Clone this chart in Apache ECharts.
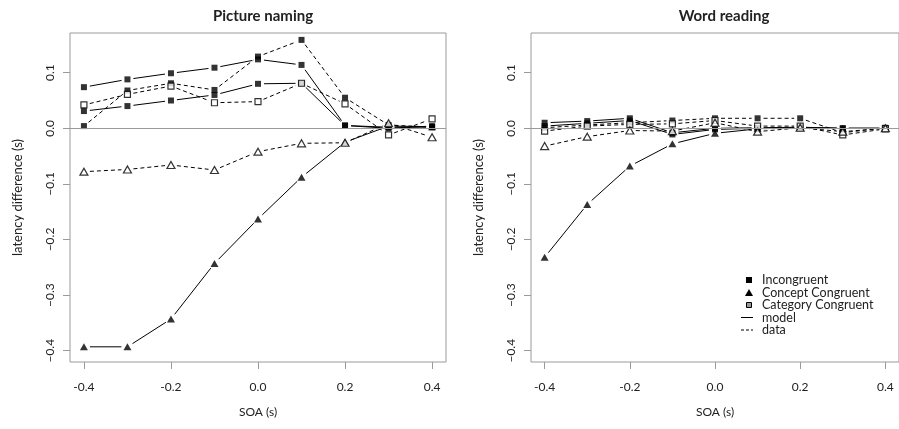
<!DOCTYPE html>
<html>
<head>
<meta charset="utf-8">
<script src="https://cdn.jsdelivr.net/npm/echarts@6/dist/echarts.min.js"></script>
<style>html,body{margin:0;padding:0;background:#fff}#c{width:899px;height:429px}</style>
</head>
<body>
<div id="c"></div>
<script>
// ---- data ----
const soa = [-0.4, -0.3, -0.2, -0.1, 0.0, 0.1, 0.2, 0.3, 0.4];
const xTicks = [-0.4, -0.2, 0.0, 0.2, 0.4];
const yTicks = [-0.4, -0.3, -0.2, -0.1, 0.0, 0.1];
const panelTitles = ['Picture naming', 'Word reading'];
const legendLabels = ['Incongruent', 'Concept Congruent', 'Category Congruent', 'model', 'data'];

// Picture naming
const pnIncModel = [0.074, 0.088, 0.099, 0.109, 0.124, 0.114, 0.005, 0.000, 0.004];
const pnCatModel = [0.031, 0.040, 0.050, 0.060, 0.080, 0.081, 0.005, 0.002, 0.002];
const pnConModel = [-0.393, -0.393, -0.343, -0.243, -0.163, -0.088, -0.025, 0.004, 0.003];
const pnIncData  = [0.004, 0.068, 0.081, 0.069, 0.129, 0.159, 0.055, 0.006, 0.002];
const pnCatData  = [0.042, 0.061, 0.076, 0.046, 0.048, 0.081, 0.044, -0.012, 0.017];
const pnConData  = [-0.078, -0.074, -0.066, -0.075, -0.042, -0.027, -0.026, 0.009, -0.016];

// Word reading
const wrIncModel = [0.010, 0.013, 0.018, -0.008, 0.000, 0.001, 0.002, 0.000, 0.000];
const wrCatModel = [0.004, 0.009, 0.014, -0.011, -0.002, 0.000, 0.001, 0.000, 0.000];
const wrConModel = [-0.232, -0.137, -0.068, -0.028, -0.009, -0.001, 0.001, 0.000, 0.000];
const wrIncData  = [0.001, 0.006, 0.010, 0.014, 0.018, 0.018, 0.018, -0.008, 0.001];
const wrCatData  = [-0.005, 0.004, 0.007, 0.008, 0.014, 0.004, 0.004, -0.012, -0.001];
const wrConData  = [-0.032, -0.015, -0.004, -0.005, 0.010, -0.006, 0.001, -0.006, 0.000];

// ---- styling ----
const FONT = 'Lato, "Open Sans", sans-serif';
const GREY = '#9a9a9a';
const TXT = '#222';
const GAP = 6;

const sqFill = {symbol: 'rect', symbolSize: 6, itemStyle: {color: '#000'}};
const sqOpen = {symbol: 'rect', symbolSize: 6, itemStyle: {color: '#fff', borderColor: '#000', borderWidth: 1.2}};
const triFill = {symbol: 'triangle', symbolSize: [8, 7], itemStyle: {color: '#000'}};
const triOpen = {symbol: 'triangle', symbolSize: [8, 7], itemStyle: {color: '#fff', borderColor: '#000', borderWidth: 1.2}};

const panels = [
  [
    {v: pnIncModel, m: sqFill, dashed: false},
    {v: pnCatModel, m: sqFill, dashed: false},
    {v: pnConModel, m: triFill, dashed: false},
    {v: pnIncData, m: sqFill, dashed: true},
    {v: pnCatData, m: sqOpen, dashed: true},
    {v: pnConData, m: triOpen, dashed: true}
  ],
  [
    {v: wrIncModel, m: sqFill, dashed: false},
    {v: wrCatModel, m: sqFill, dashed: false},
    {v: wrConModel, m: triFill, dashed: false},
    {v: wrIncData, m: sqFill, dashed: true},
    {v: wrCatData, m: sqOpen, dashed: true},
    {v: wrConData, m: triOpen, dashed: true}
  ]
];

function fmtY(v) { return (v < 0 ? '\u2212' : '') + Math.abs(v).toFixed(1); }
function fmtX(v) { return (v < 0 ? '-' : '') + Math.abs(v).toFixed(1); }

function segRender(dashed) {
  return function (params, api) {
    const p0 = api.coord([api.value(0), api.value(1)]);
    const p1 = api.coord([api.value(2), api.value(3)]);
    const dx = p1[0] - p0[0], dy = p1[1] - p0[1];
    const L = Math.hypot(dx, dy);
    if (L <= 2 * GAP) return null;
    const ux = dx / L, uy = dy / L;
    return {
      type: 'line',
      shape: {x1: p0[0] + ux * GAP, y1: p0[1] + uy * GAP, x2: p1[0] - ux * GAP, y2: p1[1] - uy * GAP},
      style: {stroke: '#000', lineWidth: 1, lineDash: dashed ? [4, 3] : null}
    };
  };
}

const grids = [], xAxes = [], yAxes = [], series = [];
const gridLefts = [70, 531];
panels.forEach((sets, pi) => {
  grids.push({left: gridLefts[pi], top: 33, width: 376, height: 329, show: true, borderColor: GREY, borderWidth: 1, backgroundColor: 'transparent'});
  xAxes.push({
    gridIndex: pi, type: 'value', min: -0.432, max: 0.432, position: 'bottom',
    axisLine: {show: false, onZero: false}, splitLine: {show: false},
    axisTick: {show: true, customValues: xTicks, length: 7, lineStyle: {color: GREY}},
    axisLabel: {customValues: xTicks, formatter: fmtX, margin: 19, fontSize: 12, color: TXT, fontFamily: FONT},
    name: 'SOA (s)', nameLocation: 'middle', nameGap: 44,
    nameTextStyle: {fontSize: 12, color: TXT, fontFamily: FONT}
  });
  yAxes.push({
    gridIndex: pi, type: 'value', min: -0.4203, max: 0.1714, position: 'left',
    axisLine: {show: false, onZero: false}, splitLine: {show: false},
    axisTick: {show: true, customValues: yTicks, length: 7, lineStyle: {color: GREY}},
    axisLabel: {customValues: yTicks, formatter: fmtY, rotate: 90, margin: 14, fontSize: 12, color: TXT, fontFamily: FONT},
    name: 'latency difference (s)', nameLocation: 'middle', nameGap: 46, nameRotate: 90,
    nameTextStyle: {fontSize: 13, color: TXT, fontFamily: FONT}
  });
  // zero reference line
  series.push({
    type: 'scatter', xAxisIndex: pi, yAxisIndex: pi, data: [], silent: true, z: 1,
    markLine: {silent: true, symbol: 'none', label: {show: false}, lineStyle: {color: GREY, type: 'solid', width: 1},
      data: [{yAxis: 0}]}
  });
  sets.forEach(s => {
    const segs = [];
    for (let i = 0; i < soa.length - 1; i++) segs.push([soa[i], s.v[i], soa[i + 1], s.v[i + 1]]);
    series.push({
      type: 'custom', xAxisIndex: pi, yAxisIndex: pi, clip: true, silent: true, z: 2,
      dimensions: ['x0', 'y0', 'x1', 'y1'], encode: {x: [0, 2], y: [1, 3]},
      renderItem: segRender(s.dashed), data: segs
    });
    series.push(Object.assign({
      type: 'scatter', xAxisIndex: pi, yAxisIndex: pi, silent: true, z: 3,
      data: soa.map((x, i) => [x, s.v[i]])
    }, s.m));
  });
});

// legend drawn in the right panel
const LX = 749, LT = 741, rowsY = [280, 292.5, 305, 317.5, 330];
const legendGraphics = [
  {type: 'rect', shape: {x: LX - 3, y: rowsY[0] - 3, width: 6, height: 6}, style: {fill: '#000'}},
  {type: 'polygon', shape: {points: [[LX - 4, rowsY[1] + 3.5], [LX + 4, rowsY[1] + 3.5], [LX, rowsY[1] - 3.5]]}, style: {fill: '#000'}},
  {type: 'rect', shape: {x: LX - 2.5, y: rowsY[2] - 2.5, width: 5, height: 5}, style: {fill: '#999', stroke: '#000', lineWidth: 1}},
  {type: 'line', shape: {x1: LT, y1: rowsY[3], x2: LT + 12, y2: rowsY[3]}, style: {stroke: '#000', lineWidth: 1}},
  {type: 'line', shape: {x1: LT, y1: rowsY[4], x2: LT + 12, y2: rowsY[4]}, style: {stroke: '#000', lineWidth: 1, lineDash: [3, 2]}}
];
legendLabels.forEach((t, i) => {
  legendGraphics.push({type: 'text', x: 762, y: rowsY[i], style: {text: t, fill: TXT, font: '12.5px ' + FONT, textVerticalAlign: 'middle', textAlign: 'left'}});
});

const chart = echarts.init(document.getElementById('c'), null, {renderer: 'canvas'});
chart.setOption({
  animation: false,
  backgroundColor: '#fff',
  title: [
    {text: panelTitles[0], left: 258, top: 4, textAlign: 'center', textStyle: {fontSize: 15, fontWeight: 'bold', color: TXT, fontFamily: FONT}},
    {text: panelTitles[1], left: 719, top: 4, textAlign: 'center', textStyle: {fontSize: 15, fontWeight: 'bold', color: TXT, fontFamily: FONT}}
  ],
  grid: grids, xAxis: xAxes, yAxis: yAxes, series: series,
  graphic: legendGraphics
});
</script>
</body>
</html>
